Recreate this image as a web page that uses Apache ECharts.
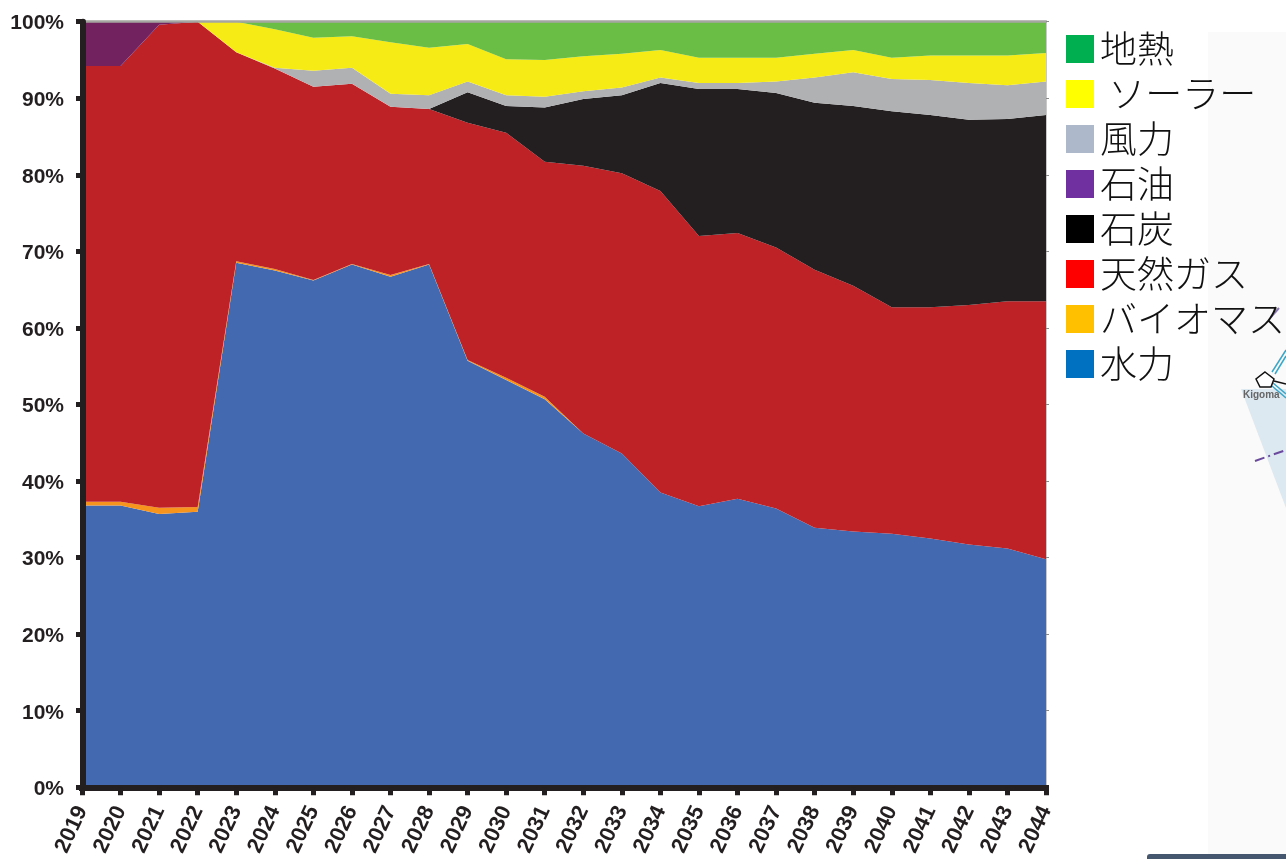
<!DOCTYPE html>
<html>
<head>
<meta charset="utf-8">
<style>html,body{margin:0;padding:0;background:#fff}#c{width:1286px;height:859px}</style>
<script src="https://cdn.jsdelivr.net/npm/echarts@6/dist/echarts.min.js"></script>
</head>
<body>
<div id="c"></div>
<script>
const years = ['2019','2020','2021','2022','2023','2024','2025','2026','2027','2028','2029','2030','2031','2032','2033','2034','2035','2036','2037','2038','2039','2040','2041','2042','2043','2044'];
const hydro = [36.8,36.8,35.7,36,68.5,67.5,66.2,68.3,66.7,68.3,55.7,53.2,50.7,46.2,43.6,38.5,36.7,37.7,36.4,33.9,33.4,33.1,32.5,31.7,31.2,29.8];
const biomass = [0.5,0.5,0.8,0.6,0.2,0.2,0.05,0.05,0.2,0.05,0.1,0.3,0.3,0,0,0,0,0,0,0,0,0,0,0,0,0];
const gas = [56.9,56.9,63.1,63.4,27.3,26.2,25.25,23.55,22,20.25,31,32,30.7,35,36.6,39.4,35.3,34.7,34.1,33.7,32.1,29.6,30.2,31.3,32.3,33.7];
const coal = [0,0,0,0,0,0,0,0,0,0,4,3.5,7.1,8.7,10.2,14.1,19.2,18.8,20.2,21.8,23.5,25.6,25.1,24.2,23.8,24.3];
const oil = [5.8,5.8,0.4,0,0,0,0,0,0,0,0,0,0,0,0,0,0,0,0,0,0,0,0,0,0,0];
const wind = [0,0,0,0,0,0.1,2.1,2.1,1.7,1.8,1.4,1.4,1.4,1,1,0.7,0.8,0.8,1.5,3.3,4.4,4.2,4.6,4.8,4.4,4.4];
const solar = [0,0,0,0,4,5,4.3,4.1,6.7,6.2,4.9,4.7,4.8,4.6,4.4,3.6,3.3,3.3,3.1,3.1,2.9,2.8,3.2,3.6,3.9,3.7];
const geothermal = [0,0,0,0,0,1,2.1,1.9,2.7,3.4,2.9,4.9,5,4.5,4.2,3.7,4.7,4.7,4.7,4.2,3.7,4.7,4.4,4.4,4.4,4.1];
const yTicks = ['0%','10%','20%','30%','40%','50%','60%','70%','80%','90%','100%'];

const names = ['水力','バイオマス','天然ガス','石炭','石油','風力',' ソーラー','地熱'];
const values = [hydro,biomass,gas,coal,oil,wind,solar,geothermal];
const areaColors = ['#4369b1','#f7941e','#be2227','#231f20','#72225f','#b0b1b3','#f6eb14','#6abd45'];
const legendColors = ['#0070c0','#ffc000','#ff0000','#000000','#7030a0','#adb9ca','#ffff00','#00b050'];

const axisColor = '#231f20';
const tickFont = {fontFamily:'"Liberation Sans", Arial, sans-serif',fontWeight:'bold',color:axisColor};

const chart = echarts.init(document.getElementById('c'),null,{renderer:'canvas'});
chart.setOption({
  animation:false,
  backgroundColor:'#ffffff',
  grid:{left:82,right:240,top:21.7,bottom:71,containLabel:false},
  graphic:[
    {type:'rect',z:0,shape:{x:1208,y:32,width:78,height:827},style:{fill:'#fafafa'}},
    {type:'polygon',z:0,shape:{points:[[1241,389],[1286,389],[1286,508]]},style:{fill:'#dce9f1'}},
    {type:'line',z:0,shape:{x1:1272,y1:372,x2:1286,y2:350},style:{stroke:'#3aa6c8',lineWidth:1.5}},
    {type:'line',z:0,shape:{x1:1275,y1:374,x2:1286,y2:356},style:{stroke:'#3aa6c8',lineWidth:1.5}},
    {type:'line',z:0,shape:{x1:1273,y1:383,x2:1286,y2:394},style:{stroke:'#3aa6c8',lineWidth:1.5}},
    {type:'line',z:0,shape:{x1:1272,y1:386,x2:1286,y2:398},style:{stroke:'#3aa6c8',lineWidth:1.5}},
    {type:'line',z:0,shape:{x1:1274,y1:381,x2:1286,y2:384},style:{stroke:'#111111',lineWidth:1.5}},
    {type:'polygon',z:0,shape:{points:[[1265,372],[1274,379],[1271,387],[1260,387],[1256,379]]},style:{fill:'#ffffff',stroke:'#111111',lineWidth:1.5}},
    {type:'text',z:0,style:{x:1243,y:390,text:'Kigoma',fill:'#666666',font:'bold 10px "Liberation Sans", Arial, sans-serif'}},
    {type:'line',z:0,shape:{x1:1255,y1:461,x2:1286,y2:450},style:{stroke:'#6b4a9e',lineWidth:2,lineDash:[10,4,2,4]}},
    {type:'line',z:0,shape:{x1:1271,y1:317,x2:1279,y2:308},style:{stroke:'#8a7ab0',lineWidth:2}},
    {type:'rect',z:0,shape:{x:1147,y:854,width:139,height:5,r:[3,0,0,0]},style:{fill:'#45566f'}}
  ],
  legend:{
    orient:'vertical',left:1066,top:30.5,padding:0,itemWidth:28,itemHeight:28,itemGap:8,itemAlign:'left',
    selectedMode:false,icon:'rect',
    data:[...names].reverse(),
    textStyle:{fontFamily:'"Noto Sans CJK JP", sans-serif',fontWeight:300,fontSize:37,color:'#111111',padding:[0,0,0,1]},
    itemStyle:{borderWidth:0}
  },
  xAxis:[
    {type:'category',boundaryGap:false,data:years,z:5,position:'bottom',
      axisLine:{show:true,onZero:false,lineStyle:{color:axisColor,width:6,cap:'square'}},
      axisTick:{show:true,alignWithLabel:true,interval:0,length:8,lineStyle:{color:axisColor,width:5}},
      axisLabel:{...tickFont,fontSize:22,interval:0,rotate:65,margin:20},
      splitLine:{show:false}},
    {type:'category',boundaryGap:false,data:years,z:4,position:'top',
      axisLine:{show:true,onZero:false,lineStyle:{color:'#a5a6a1',width:2.5}},
      axisTick:{show:false},axisLabel:{show:false},splitLine:{show:false}}
  ],
  yAxis:[
    {type:'value',min:0,max:100,interval:10,z:5,position:'left',offset:-1,
      axisLine:{show:true,onZero:false,lineStyle:{color:axisColor,width:6}},
      axisTick:{show:true,length:7,lineStyle:{color:axisColor,width:5}},
      axisLabel:{margin:19,
        formatter:function(v){return '{a|'+yTicks[Math.round(v/10)]+'}';},
        rich:{a:{...tickFont,fontSize:21,padding:[4,0,0,0]}}},
      splitLine:{show:false}},
    {type:'value',min:0,max:100,interval:10,z:4,position:'right',
      axisLine:{show:true,onZero:false,lineStyle:{color:'#c8c8c8',width:1}},
      axisTick:{show:true,length:3,lineStyle:{color:'#8a8a8a',width:1}},
      axisLabel:{show:false},splitLine:{show:false}}
  ],
  series:names.map((n,i)=>({
    name:n,type:'line',stack:'total',data:values[i],
    symbol:'none',showSymbol:false,smooth:false,
    itemStyle:{color:legendColors[i]},
    lineStyle:{width:0,color:areaColors[i]},
    areaStyle:{color:areaColors[i],opacity:1},
    z:2+i*0.01
  }))
});
</script>
</body>
</html>
